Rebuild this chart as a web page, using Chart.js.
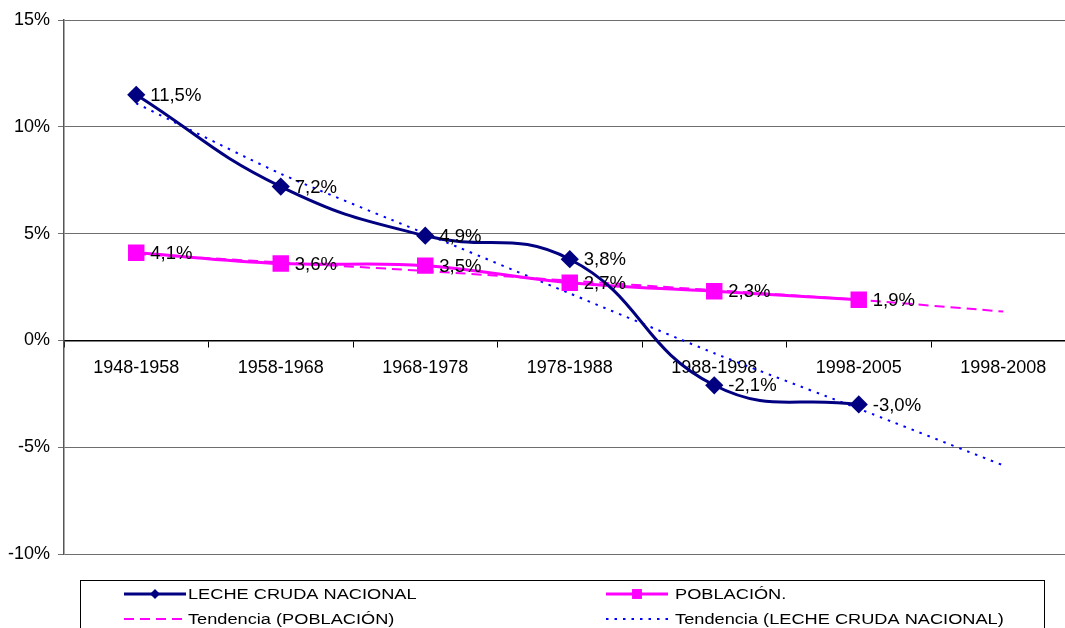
<!DOCTYPE html>
<html>
<head>
<meta charset="utf-8">
<title>Leche cruda nacional vs población</title>
<script src="https://cdn.jsdelivr.net/npm/chart.js@4.4.1/dist/chart.umd.min.js"></script>
<style>
  html, body { margin: 0; padding: 0; background: #fff; overflow: hidden; }
  #wrap { width: 1088px; height: 640px; }
</style>
</head>
<body>
<div id="wrap"><canvas id="growthChart" width="1088" height="640"></canvas></div>
<script>
// periods on the x axis
const periods = ["1948-1958", "1958-1968", "1968-1978", "1978-1988", "1988-1998", "1998-2005", "1998-2008"];
// growth rates (%)
const lecheCruda = [11.5, 7.2, 4.9, 3.8, -2.1, -3.0, null];
const poblacion = [4.1, 3.6, 3.5, 2.7, 2.3, 1.9, null];
// trend lines
const tendenciaLeche = [11.1, 7.8, 5.0, 2.2, -0.6, -3.2, -5.85];
const tendenciaPoblacion = [4.05, 3.65, 3.25, 2.8, 2.35, 1.9, 1.35];
// y axis
const yMin = -10;
const yMax = 15;
const yStep = 5;

const FONT = "'Liberation Sans', Arial, sans-serif";

function pct(v) {
  return v.toFixed(1).replace(".", ",") + "%";
}

// value labels next to the markers
const valueLabels = {
  id: "valueLabels",
  afterDatasetsDraw(chart) {
    const ctx = chart.ctx;
    ctx.save();
    ctx.font = "18.5px " + FONT;
    ctx.fillStyle = "#000";
    ctx.textAlign = "left";
    ctx.textBaseline = "middle";
    [0, 1].forEach(function(i) {
      const meta = chart.getDatasetMeta(i);
      const data = chart.data.datasets[i].data;
      meta.data.forEach(function(pt, j) {
        if (data[j] === null) return;
        ctx.fillText(pct(data[j]), pt.x + 14, pt.y + 1);
      });
    });
    ctx.restore();
  }
};

// boxed legend at the bottom, two columns like the original
const boxLegend = {
  id: "boxLegend",
  afterDraw(chart) {
    const ctx = chart.ctx;
    const ds = chart.data.datasets;
    ctx.save();
    ctx.strokeStyle = "#000";
    ctx.lineWidth = 1;
    ctx.strokeRect(80.5, 580.5, 964, 80);

    const items = [
      { d: ds[0], x: 124, y: 594 },
      { d: ds[1], x: 606, y: 594 },
      { d: ds[3], x: 124, y: 619 },
      { d: ds[2], x: 606, y: 619 }
    ];
    items.forEach(function(it) {
      const d = it.d;
      ctx.save();
      ctx.strokeStyle = d.borderColor;
      ctx.lineWidth = d.borderWidth;
      ctx.setLineDash(d.borderDash || []);
      ctx.beginPath();
      ctx.moveTo(it.x, it.y);
      ctx.lineTo(it.x + 62, it.y);
      ctx.stroke();
      ctx.restore();
      if (d.pointRadius > 0) {
        ctx.fillStyle = d.pointBackgroundColor;
        Chart.helpers.drawPoint(ctx, {
          pointStyle: d.pointStyle,
          radius: d.legendRadius,
          borderWidth: 0
        }, it.x + 31, it.y);
      }
      ctx.save();
      ctx.translate(it.x + 64, it.y);
      ctx.scale(1.3, 1);
      ctx.font = "14px " + FONT;
      ctx.fillStyle = "#000";
      ctx.textBaseline = "middle";
      ctx.fillText(d.label, 0, 1);
      ctx.restore();
    });
    ctx.restore();
  }
};

const ctx = document.getElementById("growthChart").getContext("2d");
new Chart(ctx, {
  type: "line",
  data: {
    labels: periods,
    datasets: [{
      label: "LECHE CRUDA NACIONAL",
      data: lecheCruda,
      borderColor: "#000080",
      backgroundColor: "#000080",
      pointBackgroundColor: "#000080",
      pointBorderColor: "#000080",
      borderWidth: 3,
      pointStyle: "rectRot",
      pointRadius: 7,
      legendRadius: 5,
      tension: 0.45,
      spanGaps: false,
      order: 0
    }, {
      label: " POBLACIÓN.",
      data: poblacion,
      borderColor: "#FF00FF",
      backgroundColor: "#FF00FF",
      pointBackgroundColor: "#FF00FF",
      pointBorderColor: "#FF00FF",
      borderWidth: 3,
      pointStyle: "rect",
      pointRadius: 9.5,
      legendRadius: 7,
      tension: 0.4,
      order: 0
    }, {
      label: " Tendencia (LECHE CRUDA NACIONAL)",
      data: tendenciaLeche,
      borderColor: "#0000FF",
      borderWidth: 2,
      borderDash: [2.5, 6],
      pointRadius: 0,
      tension: 0.2,
      order: 1
    }, {
      label: "Tendencia (POBLACIÓN)",
      data: tendenciaPoblacion,
      borderColor: "#FF00FF",
      borderWidth: 2,
      borderDash: [10, 6],
      pointRadius: 0,
      tension: 0.2,
      order: 1
    }]
  },
  options: {
    responsive: false,
    animation: false,
    devicePixelRatio: 1,
    layout: { padding: { top: 20, right: 5, bottom: 86, left: 0 } },
    plugins: {
      legend: { display: false },
      tooltip: { enabled: false }
    },
    scales: {
      x: {
        type: "category",
        offset: true,
        position: { y: 0 },
        afterFit: function(scale) { scale.height = 0; },
        grid: {
          offset: true,
          drawOnChartArea: false,
          drawTicks: true,
          tickLength: 6,
          color: "#000"
        },
        border: { display: true, color: "#000", width: 1.5 },
        ticks: {
          color: "#000",
          font: { family: FONT, size: 18 },
          padding: 11,
          maxRotation: 0,
          autoSkip: false
        }
      },
      y: {
        min: yMin,
        max: yMax,
        afterFit: function(scale) { scale.width = 64; },
        grid: {
          color: "#6e6e6e",
          lineWidth: 1,
          drawTicks: true,
          tickLength: 6
        },
        border: { display: true, color: "#555", width: 1.5 },
        ticks: {
          stepSize: yStep,
          color: "#000",
          font: { family: FONT, size: 18 },
          padding: 8,
          callback: function(v) { return v + "%"; }
        }
      }
    }
  },
  plugins: [valueLabels, boxLegend]
});
</script>
</body>
</html>
